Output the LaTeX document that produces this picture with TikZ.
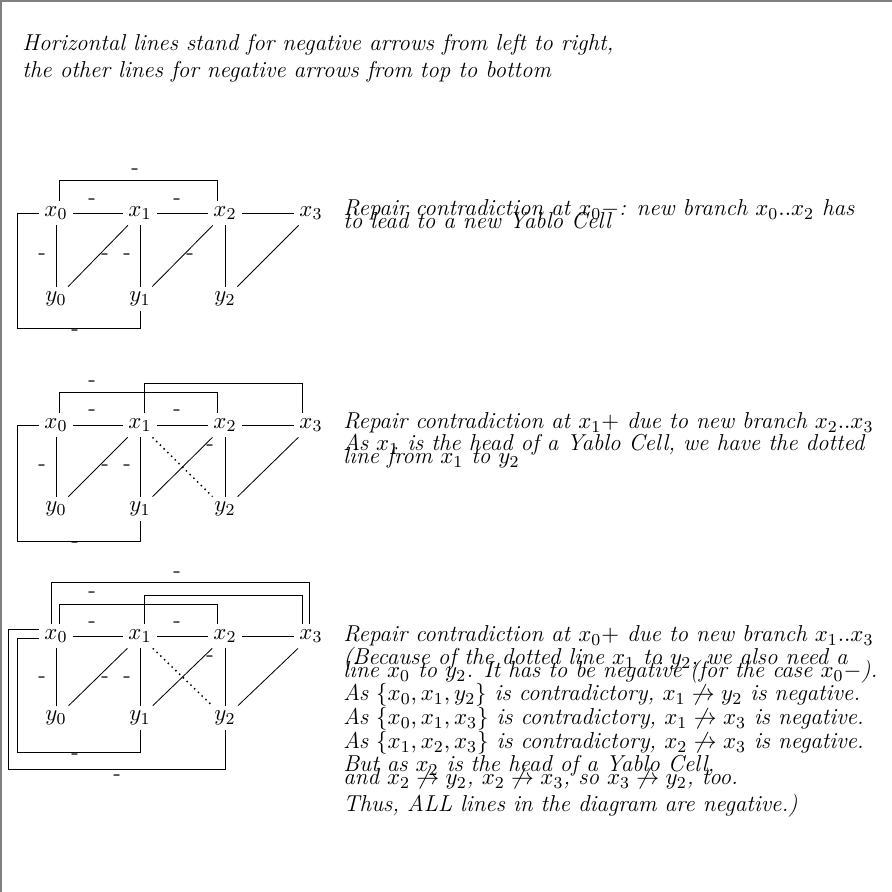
\documentclass[tikz,border=0pt]{standalone}
\usetikzlibrary{calc}
\newcommand\myfs{\fontsize{11}{13}\selectfont}
\begin{document}
\begin{tikzpicture}[x=0.016816cm,y=-0.016816cm,
  vx/.style={inner sep=0pt,minimum width=16.2pt,minimum height=11.4pt,font=\myfs},
  ln/.style={line width=0.4pt},
  dotln/.style={line width=0.7pt,dash pattern=on 0.7pt off 1.8pt},
  neg/.style={inner sep=0pt,font=\myfs\upshape},
  txt/.style={anchor=west,inner sep=0pt,font=\myfs\itshape,text height=1.5ex,text depth=.25ex}]
\useasboundingbox (0,0) rectangle (892,892);
\draw[gray,line width=1pt] (1,892) -- (1,1) -- (892,1);
% top text
\node[txt] (t1) at (22,45) {Horizontal lines stand for negative arrows from left to right,};
\node[txt] (t2) at (22,72) {the other lines for negative arrows from top to bottom};
% ---------- diagram 1
\node[vx] (a0) at (56,213) {$x_0$};
\node[vx] (a1) at (140,213) {$x_1$};
\node[vx] (a2) at (225,213) {$x_2$};
\node[vx] (a3) at (311,213) {$x_3$};
\node[vx] (b0) at (56,299) {$y_0$};
\node[vx] (b1) at (140,299) {$y_1$};
\node[vx] (b2) at (225,299) {$y_2$};
\draw[ln] (a0.east) -- (a1.west);
\draw[ln] (a1.east) -- (a2.west);
\draw[ln] (a2.east) -- (a3.west);
\draw[ln] (a0.south) -- (b0.north);
\draw[ln] (a1.south) -- (b1.north);
\draw[ln] (a2.south) -- (b2.north);
\draw[ln] (a1) -- (b0);
\draw[ln] (a2) -- (b1);
\draw[ln] (a3) -- (b2);
\draw[ln] ($(a0.north)+(3,0)$) -- ++(0,-20) -| ($(a2.north)+(-8,0)$);
\draw[ln] (a0.west) -| (17,328) -| (b1.south);
\node[neg] (n1) at (135,172) {-};
\node[neg] (n2) at (92,202) {-};
\node[neg] (n3) at (177,202) {-};
\node[neg] (n4) at (42,257) {-};
\node[neg] (n5) at (105,257) {-};
\node[neg] (n6) at (127,257) {-};
\node[neg] (n7) at (190,257) {-};
\node[neg] (n8) at (75,333) {-};
\node[txt] (r11) at (343,210) {Repair contradiction at $x_0-$: new branch $x_0..x_2$ has};
\node[txt] (r12) at (343,223) {to lead to a new Yablo Cell};
% ---------- diagram 2
\node[vx] (c0) at (56,425) {$x_0$};
\node[vx] (c1) at (140,425) {$x_1$};
\node[vx] (c2) at (225,425) {$x_2$};
\node[vx] (c3) at (311,425) {$x_3$};
\node[vx] (d0) at (56,509) {$y_0$};
\node[vx] (d1) at (140,509) {$y_1$};
\node[vx] (d2) at (225,509) {$y_2$};
\draw[ln] (c0.east) -- (c1.west);
\draw[ln] (c1.east) -- (c2.west);
\draw[ln] (c2.east) -- (c3.west);
\draw[ln] (c0.south) -- (d0.north);
\draw[ln] (c1.south) -- (d1.north);
\draw[ln] (c2.south) -- (d2.north);
\draw[ln] (c1) -- (d0);
\draw[ln] (c2) -- (d1);
\draw[ln] (c3) -- (d2);
\draw[dotln] (c1) -- (d2);
\draw[ln] ($(c0.north)+(3,0)$) -- ++(0,-20) -| ($(c2.north)+(-8,0)$);
\draw[ln] ($(c1.north)+(4,0)$) -- ++(0,-29) -| ($(c3.north)+(-9,0)$);
\draw[ln] (c0.west) -| (17,541) -| (d1.south);
\node[neg] (m1) at (92,384) {-};
\node[neg] (m2) at (92,413) {-};
\node[neg] (m3) at (177,413) {-};
\node[neg] (m4) at (42,468) {-};
\node[neg] (m5) at (105,468) {-};
\node[neg] (m6) at (127,468) {-};
\node[neg] (m7) at (210,448) {-};
\node[neg] (m8) at (75,545) {-};
\node[txt] (r21) at (343,423) {Repair contradiction at $x_1+$ due to new branch $x_2..x_3$};
\node[txt] (r22) at (343,445) {As $x_1$ is the head of a Yablo Cell, we have the dotted};
\node[txt] (r23) at (343,458) {line from $x_1$ to $y_2$};
% ---------- diagram 3
\node[vx] (e0) at (56,636) {$x_0$};
\node[vx] (e1) at (140,636) {$x_1$};
\node[vx] (e2) at (225,636) {$x_2$};
\node[vx] (e3) at (311,636) {$x_3$};
\node[vx] (f0) at (56,718) {$y_0$};
\node[vx] (f1) at (140,718) {$y_1$};
\node[vx] (f2) at (225,718) {$y_2$};
\draw[ln] (e0.east) -- (e1.west);
\draw[ln] (e1.east) -- (e2.west);
\draw[ln] (e2.east) -- (e3.west);
\draw[ln] (e0.south) -- (f0.north);
\draw[ln] (e1.south) -- (f1.north);
\draw[ln] (e2.south) -- (f2.north);
\draw[ln] (e1) -- (f0);
\draw[ln] (e2) -- (f1);
\draw[ln] (e3) -- (f2);
\draw[dotln] (e1) -- (f2);
\draw[ln] ($(e0.north)+(-5,0)$) -- ++(0,-41) -| ($(e3.north)+(-2,0)$);
\draw[ln] ($(e0.north)+(3,0)$) -- ++(0,-19) -| ($(e2.north)+(-8,0)$);
\draw[ln] ($(e1.north)+(4,0)$) -- ++(0,-28) -| ($(e3.north)+(-9,0)$);
\draw[ln] ($(e0.west)+(0,2)$) -| (17,752) -| (f1.south);
\draw[ln] ($(e0.west)+(0,-7)$) -| (8,769) -| (f2.south);
\node[neg] (k1) at (177,575) {-};
\node[neg] (k2) at (92,595) {-};
\node[neg] (k3) at (92,625) {-};
\node[neg] (k4) at (177,625) {-};
\node[neg] (k5) at (42,680) {-};
\node[neg] (k6) at (105,680) {-};
\node[neg] (k7) at (127,680) {-};
\node[neg] (k8) at (210,659) {-};
\node[neg] (k9) at (75,757) {-};
\node[neg] (k10) at (117,778) {-};
\node[txt] (r31) at (343,636) {Repair contradiction at $x_0+$ due to new branch $x_1..x_3$};
\node[txt] (r32) at (343,659) {(Because of the dotted line $x_1$ to $y_2$, we also need a};
\node[txt] (r33) at (343,672) {line $x_0$ to $y_2$. It has to be negative (for the case $x_0-$).};
\node[txt] (r34) at (343,695) {As $\{x_0,x_1,y_2\}$ is contradictory, $x_1\not\rightarrow y_2$ is negative.};
\node[txt] (r35) at (343,719) {As $\{x_0,x_1,x_3\}$ is contradictory, $x_1\not\rightarrow x_3$ is negative.};
\node[txt] (r36) at (343,743) {As $\{x_1,x_2,x_3\}$ is contradictory, $x_2\not\rightarrow x_3$ is negative.};
\node[txt] (r37) at (343,766) {But as $x_2$ is the head of a Yablo Cell,};
\node[txt] (r38) at (343,779) {and $x_2\not\rightarrow y_2$, $x_2\not\rightarrow x_3$, so $x_3\not\rightarrow y_2$, too.};
\node[txt] (r39) at (343,806) {Thus, ALL lines in the diagram are negative.)};
\end{tikzpicture}
\end{document}
